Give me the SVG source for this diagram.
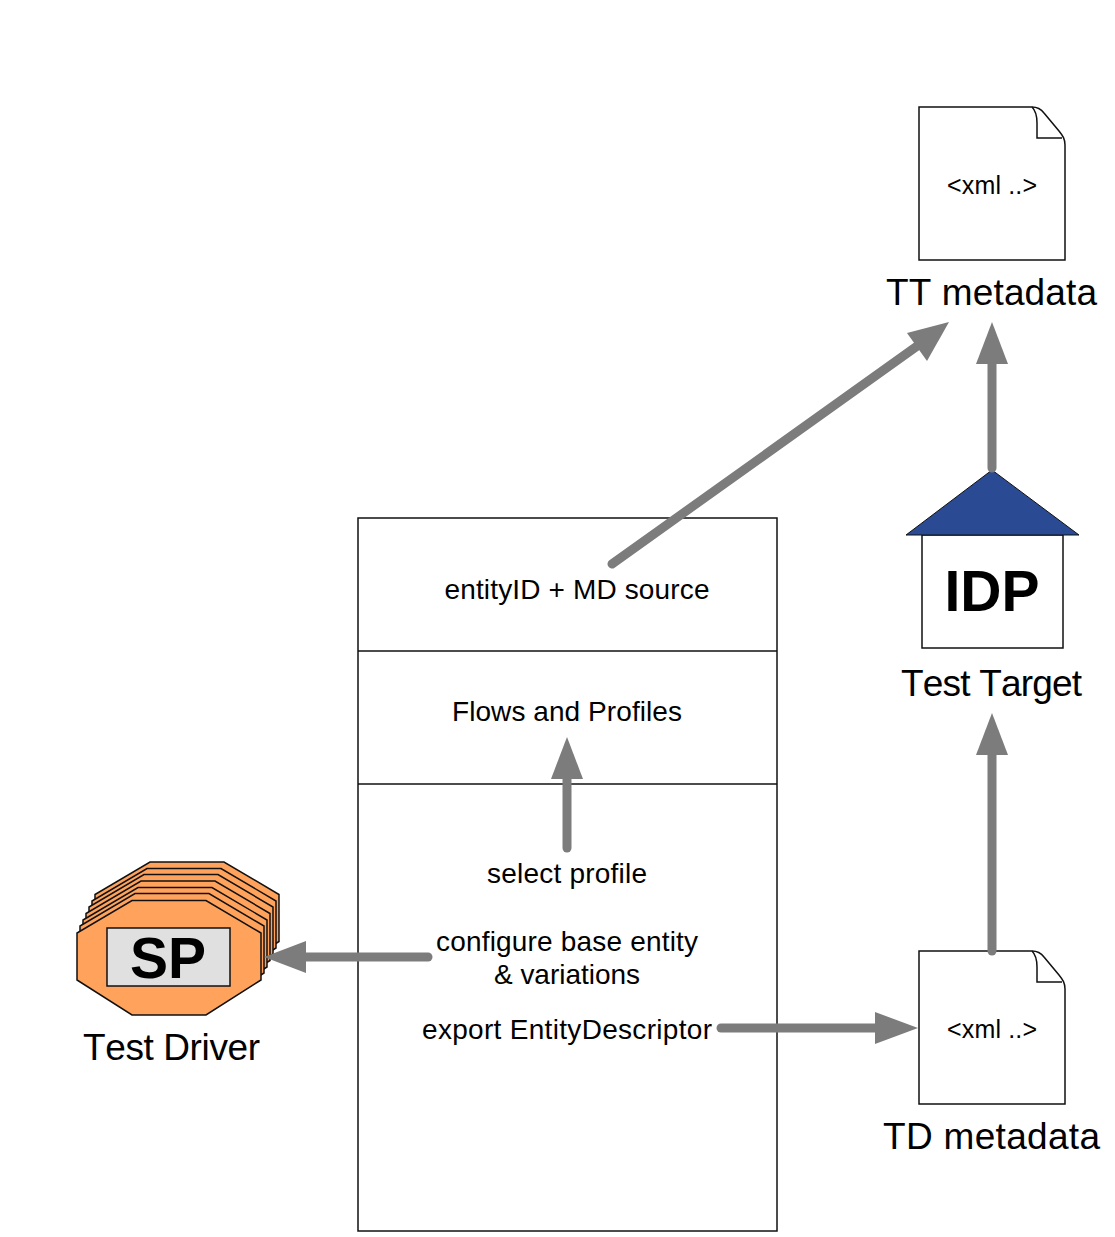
<svg xmlns="http://www.w3.org/2000/svg" width="1115" height="1237" viewBox="0 0 1115 1237">
<style>
text{font-family:"Liberation Sans",Arial,sans-serif;fill:#000;text-anchor:middle;font-kerning:none}
.lbl{font-size:28px}
.lbl2{font-size:37px}
.big{font-weight:bold;font-size:57px}
.xml{font-size:25px}
.box{fill:#fff;stroke:#111;stroke-width:1.5}
.oct{fill:#ffa35c;stroke:#111;stroke-width:1.5}
.conn{stroke:#7c7c7c;stroke-width:9;stroke-linecap:round;fill:none}
.head{fill:#7c7c7c}
</style>
<defs>
<polygon id="octa" class="oct" points="132,900.5 206,900.5 261,933 261,980 206,1015 132,1015 77,980 77,933"/>
<g id="doc">
<path class="box" d="M0,0H113C118,0 122,2 125,6L140,24C144,29 146,32 146,38V153H0Z"/>
<path d="M113,0C117,4 118,10 118,16V31H143" fill="none" stroke="#111" stroke-width="1.5"/>
</g>
</defs>
<g id="main-table">
<rect class="box" x="358" y="518" width="419" height="713"/>
<line class="box" x1="358" y1="651" x2="777" y2="651"/>
<line class="box" x1="358" y1="784" x2="777" y2="784"/>
<text class="lbl" x="577" y="599" textLength="265">entityID + MD source</text>
<text class="lbl" x="567" y="721" textLength="230">Flows and Profiles</text>
<text class="lbl" x="567" y="883" textLength="160">select profile</text>
<text class="lbl" x="567" y="951" textLength="262">configure base entity</text>
<text class="lbl" x="567" y="984" textLength="146">&amp; variations</text>
<text class="lbl" x="567" y="1039" textLength="290">export EntityDescriptor</text>
</g>
<g id="test-driver">
<use href="#octa" x="18" y="-38.5"/>
<use href="#octa" x="15" y="-32"/>
<use href="#octa" x="12" y="-26"/>
<use href="#octa" x="9" y="-19.5"/>
<use href="#octa" x="6" y="-13"/>
<use href="#octa" x="3" y="-7"/>
<use href="#octa"/>
<rect x="107" y="928" width="123" height="58" fill="#e0e0e0" stroke="#111" stroke-width="1.5"/>
<text class="big" x="168" y="978">SP</text>
<text class="lbl2" x="171.5" y="1060" textLength="177">Test Driver</text>
</g>
<g id="tt-metadata">
<use href="#doc" x="919" y="107"/>
<text class="xml" x="992" y="194" textLength="90">&lt;xml ..&gt;</text>
<text class="lbl2" x="991.5" y="305" textLength="211">TT metadata</text>
</g>
<g id="td-metadata">
<use href="#doc" x="919" y="951"/>
<text class="xml" x="992" y="1038" textLength="90">&lt;xml ..&gt;</text>
<text class="lbl2" x="991.5" y="1149" textLength="217">TD metadata</text>
</g>
<g id="test-target">
<rect class="box" x="922" y="535" width="141" height="113"/>
<polygon points="992,470 1079,535 906,535" fill="#2b4a94" stroke="#111" stroke-width="1"/>
<text class="big" x="992" y="611">IDP</text>
<text class="lbl2" x="991.5" y="696" textLength="181">Test Target</text>
</g>
<g id="connectors">
<line class="conn" x1="612" y1="564" x2="920" y2="344"/>
<polygon class="head" points="949,322 907,333 927,361"/>
<line class="conn" x1="992" y1="468" x2="992" y2="360"/>
<polygon class="head" points="992,322 976,364 1008,364"/>
<line class="conn" x1="992" y1="951" x2="992" y2="750"/>
<polygon class="head" points="992,713 976,755 1008,755"/>
<line class="conn" x1="567" y1="848" x2="567" y2="775"/>
<polygon class="head" points="567,737 551,779 583,779"/>
<line class="conn" x1="428" y1="957" x2="300" y2="957"/>
<polygon class="head" points="264,957 306,941 306,973"/>
<line class="conn" x1="721" y1="1028" x2="880" y2="1028"/>
<polygon class="head" points="918,1028 875,1012 875,1044"/>
</g>
</svg>
